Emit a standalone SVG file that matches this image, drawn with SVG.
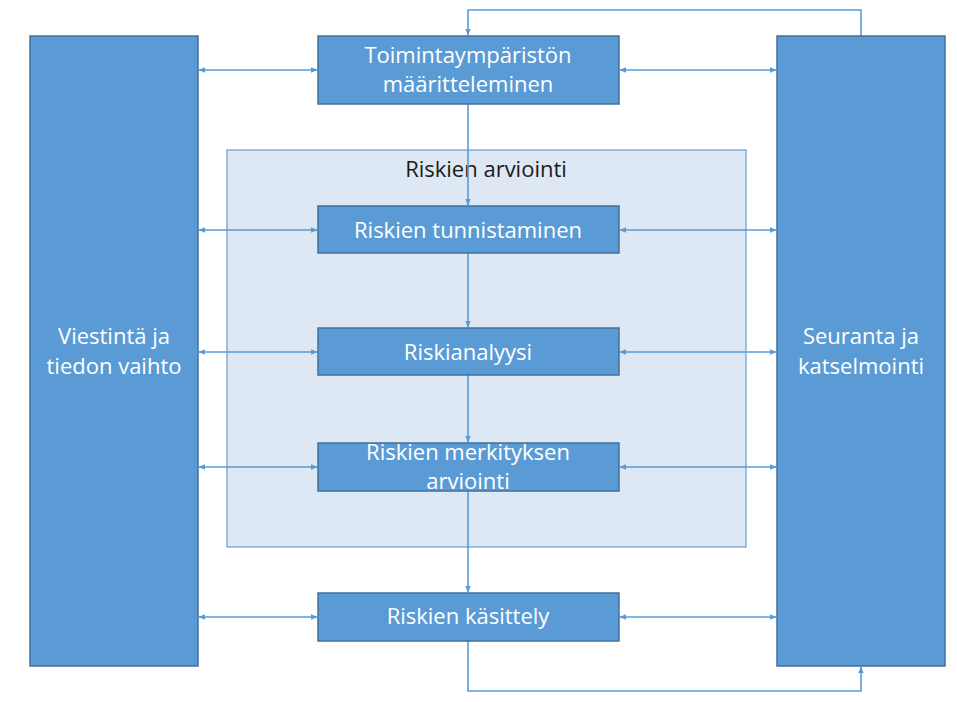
<svg xmlns="http://www.w3.org/2000/svg" width="957" height="702" viewBox="0 0 957 702">
  <style>
    .box { fill: #5b9bd5; stroke: #41719c; stroke-width: 1.5; }
    .panel { fill: #dee8f4; stroke: #6a9bcf; stroke-width: 1.2; }
    .lbl { font-family: "Open Sans", Lato, sans-serif; font-size: 22px; fill: #ffffff; text-anchor: middle; }
    .title { font-family: "Open Sans", Lato, sans-serif; font-size: 22px; fill: #1a1a1a; text-anchor: middle; }
    .con { fill: none; stroke: #5b9bd5; stroke-width: 1.6; }
  </style>
  <defs>
    <marker id="arr" viewBox="0 0 10 10" refX="9" refY="5" markerWidth="7" markerHeight="7" orient="auto-start-reverse" markerUnits="userSpaceOnUse">
      <path d="M0,1 L10,5 L0,9 Z" fill="#5b9bd5"/>
    </marker>
  </defs>
  <rect width="957" height="702" fill="#ffffff"/>

  <g id="riskien-arviointi">
    <rect class="panel" x="227" y="150" width="519" height="397"/>
    <text class="title" x="486" y="177">Riskien arviointi</text>
  </g>

  <g id="connectors">
    <!-- left side two-way links -->
    <line class="con" x1="199" y1="70" x2="317" y2="70" marker-start="url(#arr)" marker-end="url(#arr)"/>
    <line class="con" x1="199" y1="230" x2="317" y2="230" marker-start="url(#arr)" marker-end="url(#arr)"/>
    <line class="con" x1="199" y1="352" x2="317" y2="352" marker-start="url(#arr)" marker-end="url(#arr)"/>
    <line class="con" x1="199" y1="467" x2="317" y2="467" marker-start="url(#arr)" marker-end="url(#arr)"/>
    <line class="con" x1="199" y1="617" x2="317" y2="617" marker-start="url(#arr)" marker-end="url(#arr)"/>
    <!-- right side two-way links -->
    <line class="con" x1="620" y1="70" x2="776" y2="70" marker-start="url(#arr)" marker-end="url(#arr)"/>
    <line class="con" x1="620" y1="230" x2="776" y2="230" marker-start="url(#arr)" marker-end="url(#arr)"/>
    <line class="con" x1="620" y1="352" x2="776" y2="352" marker-start="url(#arr)" marker-end="url(#arr)"/>
    <line class="con" x1="620" y1="467" x2="776" y2="467" marker-start="url(#arr)" marker-end="url(#arr)"/>
    <line class="con" x1="620" y1="617" x2="776" y2="617" marker-start="url(#arr)" marker-end="url(#arr)"/>
    <!-- main flow -->
    <line class="con" x1="468" y1="104" x2="468" y2="205" marker-end="url(#arr)"/>
    <line class="con" x1="468" y1="253" x2="468" y2="327" marker-end="url(#arr)"/>
    <line class="con" x1="468" y1="375" x2="468" y2="442" marker-end="url(#arr)"/>
    <line class="con" x1="468" y1="491" x2="468" y2="592" marker-end="url(#arr)"/>
    <!-- feedback loops -->
    <polyline class="con" points="861,36 861,10 468,10 468,35" marker-end="url(#arr)"/>
    <polyline class="con" points="468,641 468,691 861,691 861,667" marker-end="url(#arr)"/>
  </g>

  <g id="viestinta">
    <rect class="box" x="30" y="36" width="168" height="630"/>
    <text class="lbl" x="114" y="344">Viestintä ja</text>
    <text class="lbl" x="114" y="374">tiedon vaihto</text>
  </g>

  <g id="seuranta">
    <rect class="box" x="777" y="36" width="168" height="630"/>
    <text class="lbl" x="861" y="344">Seuranta ja</text>
    <text class="lbl" x="861" y="374">katselmointi</text>
  </g>

  <g id="toimintaymparisto">
    <rect class="box" x="318" y="36" width="301" height="68"/>
    <text class="lbl" x="468" y="63">Toimintaympäristön</text>
    <text class="lbl" x="468" y="92">määritteleminen</text>
  </g>

  <g id="tunnistaminen">
    <rect class="box" x="318" y="206" width="301" height="47"/>
    <text class="lbl" x="468" y="238">Riskien tunnistaminen</text>
  </g>

  <g id="riskianalyysi">
    <rect class="box" x="318" y="328" width="301" height="47"/>
    <text class="lbl" x="468" y="360">Riskianalyysi</text>
  </g>

  <g id="merkitys">
    <rect class="box" x="318" y="443" width="301" height="48"/>
    <text class="lbl" x="468" y="460">Riskien merkityksen</text>
    <text class="lbl" x="468" y="489">arviointi</text>
  </g>

  <g id="kasittely">
    <rect class="box" x="318" y="593" width="301" height="48"/>
    <text class="lbl" x="468" y="624">Riskien käsittely</text>
  </g>
</svg>
